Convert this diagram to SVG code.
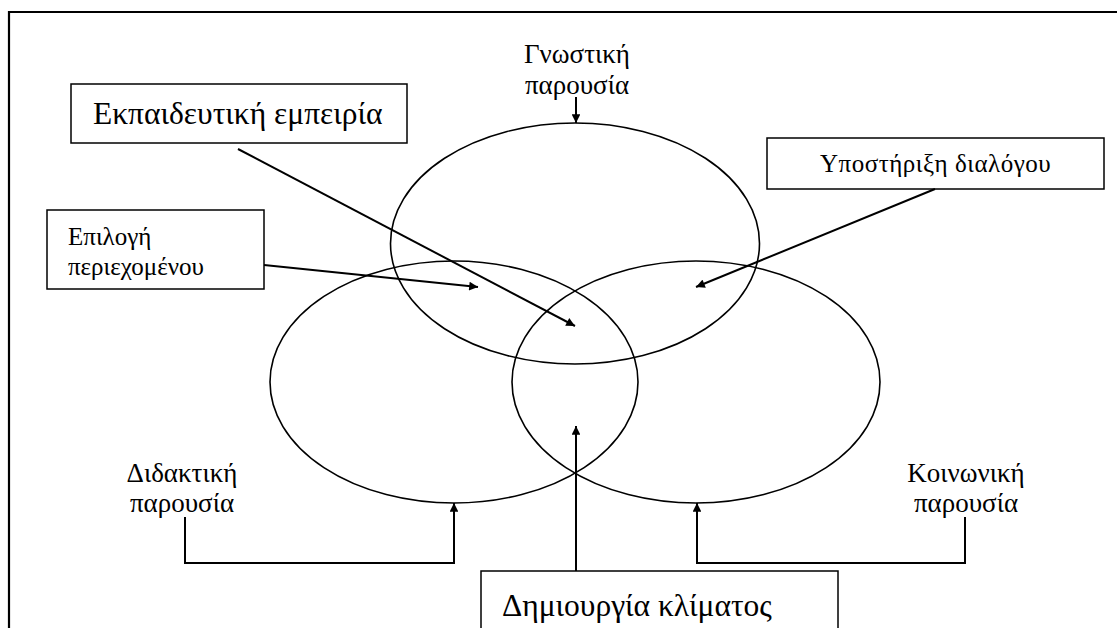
<svg xmlns="http://www.w3.org/2000/svg" width="1117" height="628" viewBox="0 0 1117 628">
  <defs>
    <marker id="head" viewBox="0 0 10 10" refX="10" refY="5" markerWidth="5" markerHeight="4.4" markerUnits="strokeWidth" orient="auto">
      <path d="M0,0 L10,5 L0,10 Z" fill="#000"/>
    </marker>
    <style>
      .frame { fill: none; stroke: #000; stroke-width: 2.2; }
      .ring { fill: none; stroke: #000; stroke-width: 1.6; }
      .box { fill: #fff; stroke: #000; stroke-width: 1.5; }
      .arrow { fill: none; stroke: #000; stroke-width: 2; marker-end: url(#head); }
      text { fill: #000; font-family: "Liberation Serif", "Times New Roman", serif; }
      .big { font-size: 31.5px; }
      .mid { font-size: 27px; }
      .small { font-size: 25px; }
    </style>
  </defs>

  <rect width="1117" height="628" fill="#fff"/>

  <!-- outer frame: top and left edges only -->
  <path class="frame" d="M9,628 L9,12 L1117,12"/>

  <!-- the three overlapping presences -->
  <g id="cognitive">
    <ellipse class="ring" cx="575" cy="243.5" rx="184.5" ry="120.5"/>
    <text class="mid" x="577" y="63" text-anchor="middle">Γνωστική</text>
    <text class="mid" x="577" y="94" text-anchor="middle">παρουσία</text>
  </g>
  <g id="teaching">
    <ellipse class="ring" cx="454" cy="382" rx="184" ry="121"/>
    <text class="mid" x="182" y="482" text-anchor="middle">Διδακτική</text>
    <text class="mid" x="182" y="512" text-anchor="middle">παρουσία</text>
  </g>
  <g id="social">
    <ellipse class="ring" cx="696" cy="382" rx="184" ry="121"/>
    <text class="mid" x="966" y="482" text-anchor="middle">Κοινωνική</text>
    <text class="mid" x="966" y="512" text-anchor="middle">παρουσία</text>
  </g>

  <!-- labelled boxes -->
  <g id="educational-experience">
    <rect class="box" x="71" y="84" width="336" height="59"/>
    <text class="big" x="93" y="124">Εκπαιδευτική εμπειρία</text>
  </g>
  <g id="supporting-discourse">
    <rect class="box" x="767" y="138" width="337" height="51"/>
    <text class="small" x="820" y="172" letter-spacing="0.5">Υποστήριξη διαλόγου</text>
  </g>
  <g id="selecting-content">
    <rect class="box" x="47" y="210" width="217" height="79"/>
    <text class="small" x="68" y="245">Επιλογή</text>
    <text class="small" x="68" y="275">περιεχομένου</text>
  </g>
  <g id="setting-climate">
    <rect class="box" x="481" y="571" width="357" height="70"/>
    <text class="big" x="502" y="616">Δημιουργία κλίματος</text>
  </g>

  <!-- connectors -->
  <g id="connectors">
    <path class="arrow" d="M576,97 L576,123"/>
    <path class="arrow" d="M238,149 L575,326"/>
    <path class="arrow" d="M264,265 L478,287"/>
    <path class="arrow" d="M935,189 L696,287"/>
    <path class="arrow" d="M576,571 L576,426"/>
    <path class="arrow" d="M185,517 L185,563 L454,563 L454,503"/>
    <path class="arrow" d="M965,517 L965,563 L697,563 L697,503"/>
  </g>
</svg>
